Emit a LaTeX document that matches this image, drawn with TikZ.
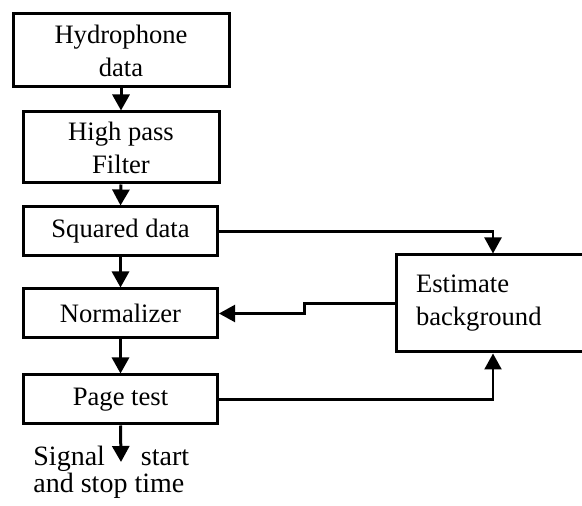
\documentclass[tikz,border=0pt]{standalone}
\usepackage{fontspec}
\setmainfont{Liberation Serif}
\usetikzlibrary{positioning, calc, arrows.meta}

\begin{document}
\begin{tikzpicture}[x=0.5pt, y=-0.5pt,
    font=\fontsize{13.3}{16.5}\selectfont,
    block/.style={draw, line width=1.5pt, inner sep=0pt, align=center},
    flow/.style={-{Triangle[width=8.5pt,length=8pt]}, line width=1.5pt},
    conn/.style={-{Triangle[width=8.5pt,length=8pt]}, line width=1.1pt}]
    \useasboundingbox (0,0) rectangle (582,506);
    \clip (0,0) rectangle (582,506);
    % processing chain
    \node[block, minimum width=108pt, minimum height=36.5pt] (hydro) at (121,50.5) {Hydrophone\\data};
    \node[block, minimum width=98pt, minimum height=35.5pt] (hpf) at (121,147.5) {High pass\\Filter};
    \node[block, minimum width=97pt, minimum height=24.5pt] (sq) at (120.5,231.5) {Squared data};
    \node[block, minimum width=97pt, minimum height=24.5pt] (norm) at (120.5,313.5) {Normalizer};
    \node[block, minimum width=97pt, minimum height=24.5pt] (page) at (120.5,399.5) {Page test};
    \node[block, minimum width=97pt, minimum height=48.5pt, inner xsep=10pt,
          text width=77pt, align=left] (est) at (493,303.5) {Estimate\\background};
    \coordinate (out) at (121,462);
    \node[anchor=north west, inner sep=0pt, align=left,
          font=\fontsize{14}{13.5}\selectfont] (sig) at (33,446)
        {Signal\hspace{18pt}start\\and stop time};
    % arrows
    \draw[flow] (hydro.south) -- (hpf.north);
    \draw[flow] (hpf.south) -- (sq.north);
    \draw[flow] (sq.south) -- (norm.north);
    \draw[flow] (norm.south) -- (page.north);
    \draw[flow] (page.south) -- (out);
    \draw[conn] (sq.east) -| (est.north);
    \draw[conn] (page.east) -| (est.south);
    \draw[conn] (est.west) -- ++(-90,0) |- (norm.east);
\end{tikzpicture}
\end{document}
